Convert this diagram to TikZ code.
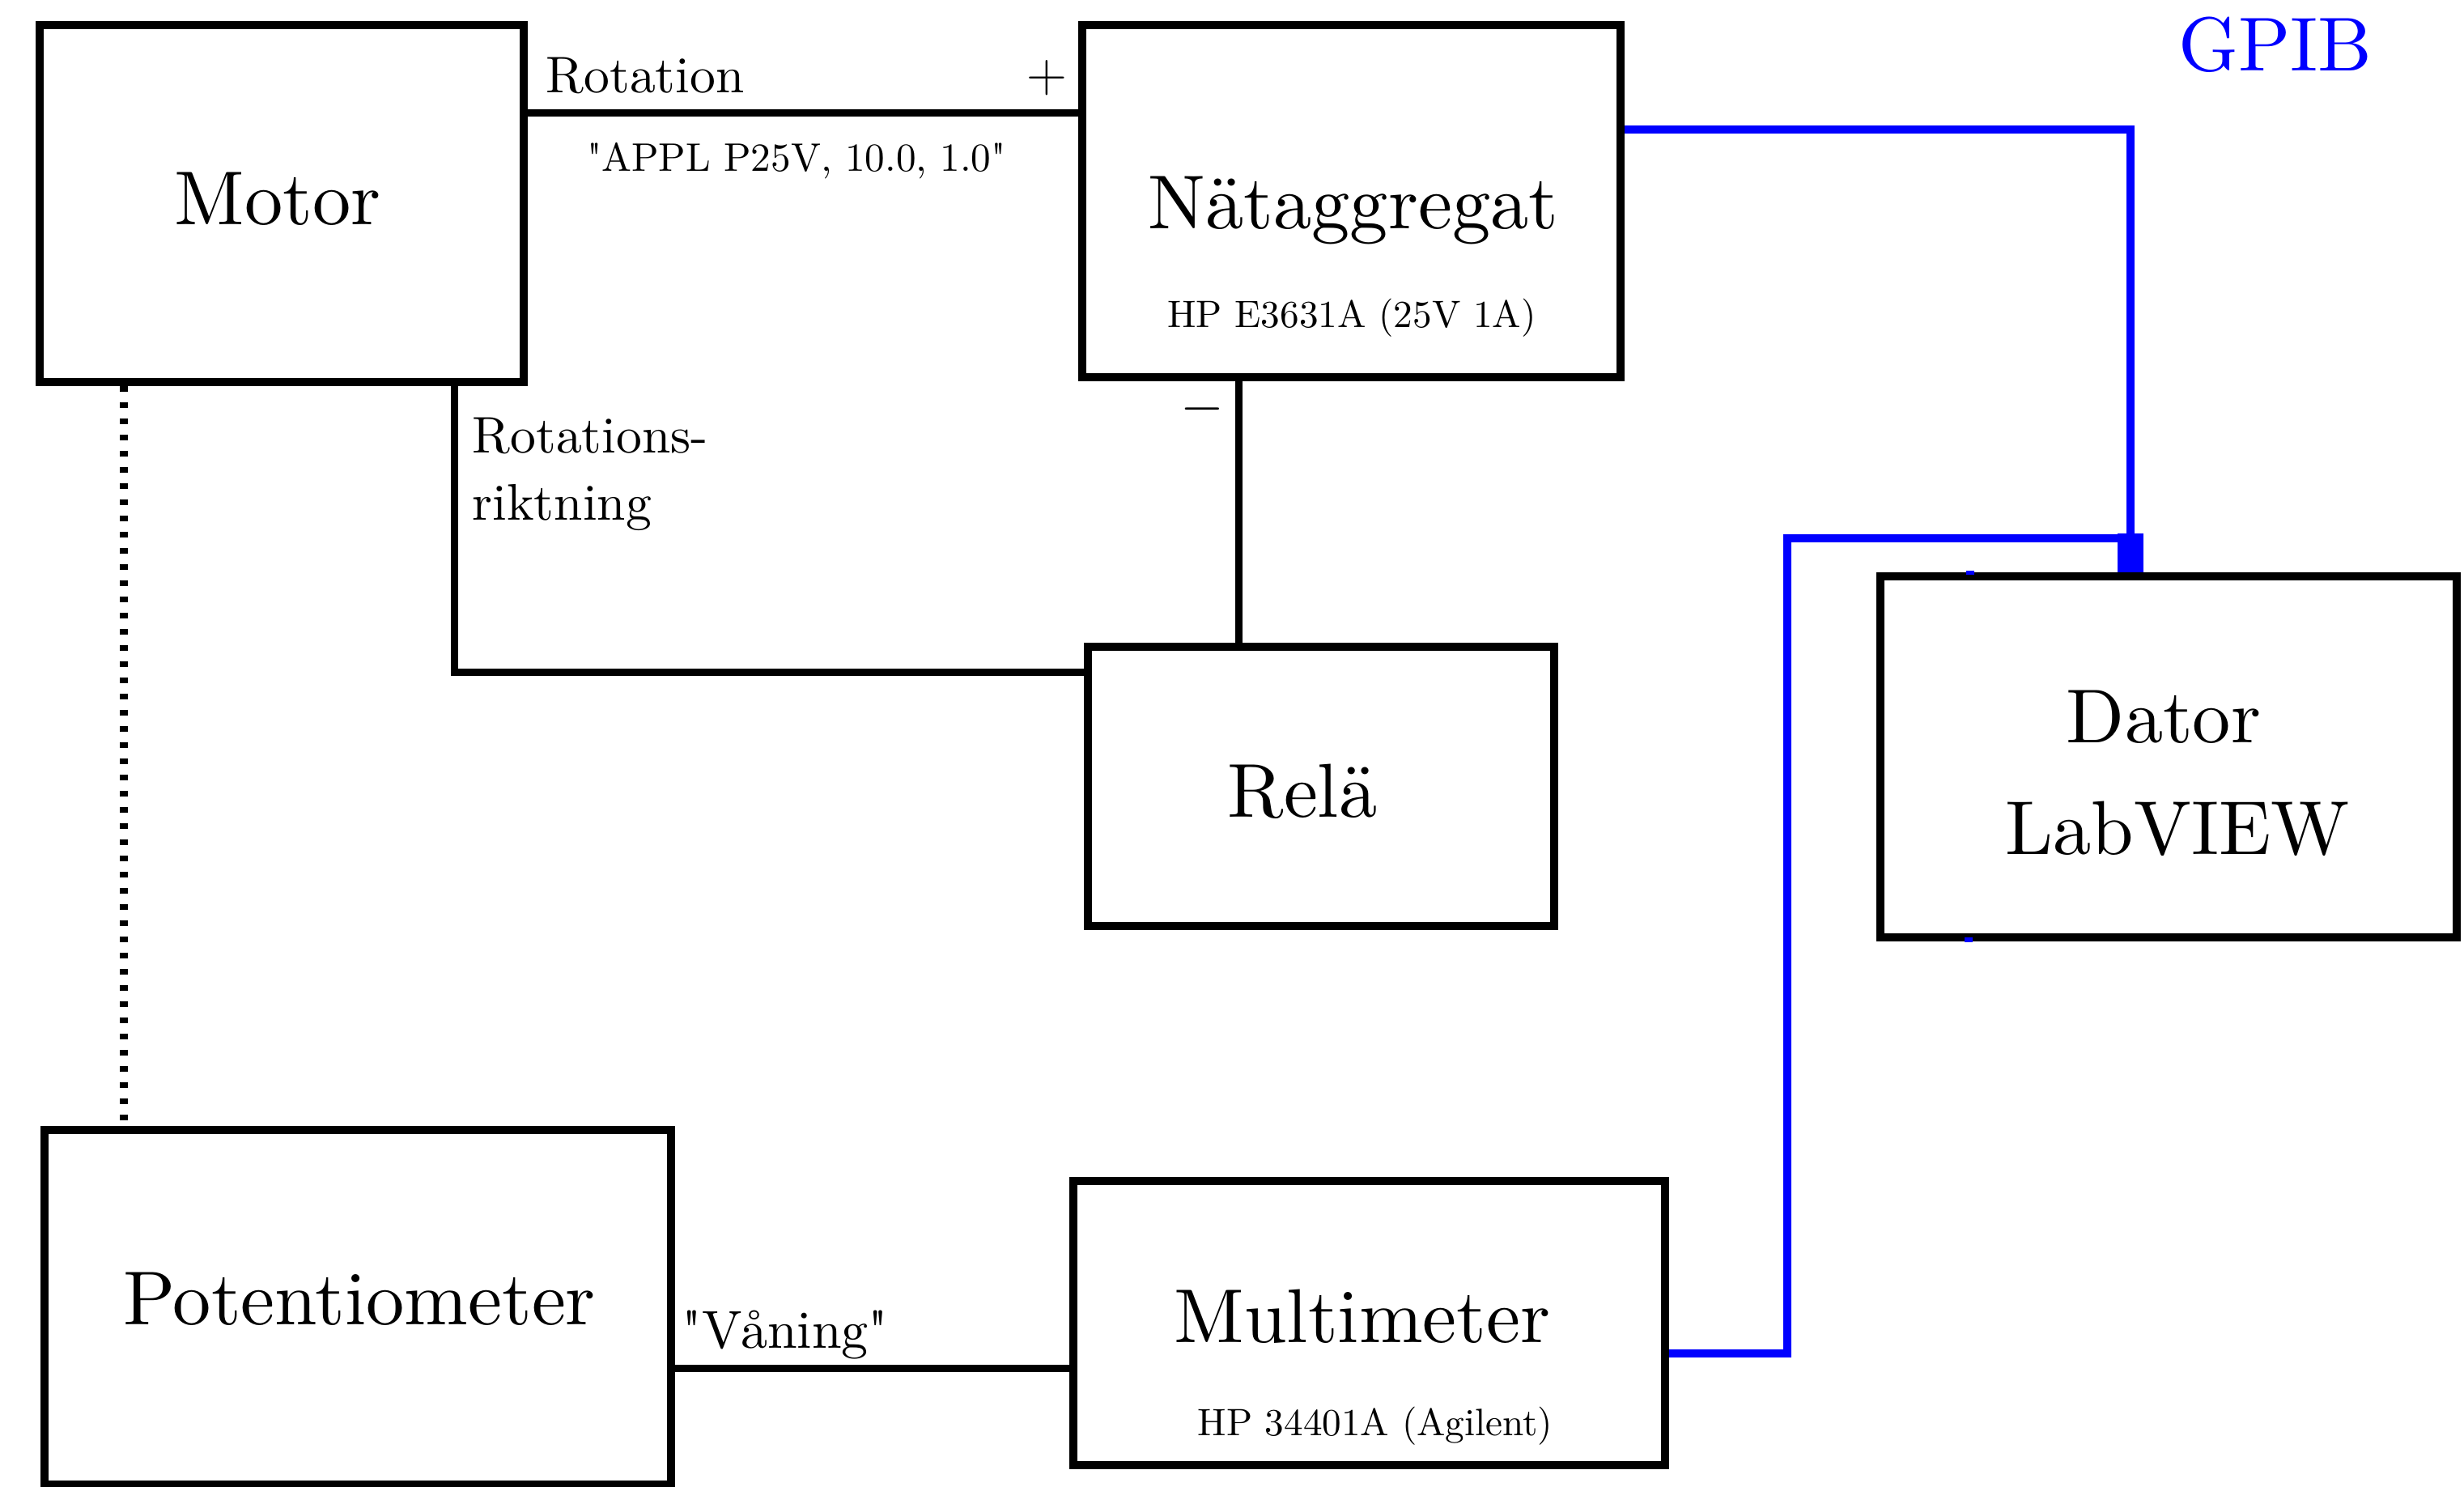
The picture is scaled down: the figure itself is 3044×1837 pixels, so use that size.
\documentclass[tikz,border=0pt]{standalone}
\usepackage{fontspec}
\setmainfont{lmroman10-regular.otf}
\usetikzlibrary{arrows.meta}
\definecolor{gpibblue}{RGB}{0,0,255}
\tikzset{
 box/.style={draw, line width=2.5pt, rectangle, inner sep=0pt},
 wire/.style={line width=2.25pt},
 gpib/.style={draw=gpibblue, line width=2.3pt},
 lbl/.style={inner sep=0pt, anchor=base},
 big/.style={font=\fontsize{23.6}{28}\selectfont},
 med/.style={font=\fontsize{15.9}{19}\selectfont},
 sml/.style={font=\fontsize{11.8}{14}\selectfont},
}
\begin{document}
\begin{tikzpicture}[x=0.25pt,y=-0.25pt]
\useasboundingbox (0,0) rectangle (3044,1837);
% boxes
\node[box, minimum width=149.5pt, minimum height=110.25pt] (motor) at (348,251.5) {};
\node[box, minimum width=166.25pt, minimum height=108.75pt] (nat) at (1669.5,248.5) {};
\node[box, minimum width=178pt, minimum height=111.5pt] (dator) at (2679,935) {};
\node[box, minimum width=144pt, minimum height=86.25pt] (rele) at (1632,971.5) {};
\node[box, minimum width=193.5pt, minimum height=109.5pt] (pot) at (442,1615) {};
\node[box, minimum width=182.75pt, minimum height=87.75pt] (multi) at (1691.5,1634.5) {};
% texts
\node[lbl, big] (tmotor) at (343,278) {Motor};
\node[lbl, big] (tnat) at (1672,283) {Nätaggregat};
\node[lbl, sml] (tnatsub) at (1670,405) {HP E3631A (25V 1A)};
\node[lbl, big] (tdator) at (2673,918) {Dator};
\node[lbl, big] (tlab) at (2690,1056) {LabVIEW};
\node[lbl, big] (trele) at (1609,1010) {Relä};
\node[lbl, big] (tpot) at (444,1637) {Potentiometer};
\node[lbl, big] (tmulti) at (1683,1659) {Multimeter};
\node[lbl, sml] (tmultisub) at (1699,1773) {HP 34401A (Agilent)};
\node[lbl, big, text=gpibblue] (tgpib) at (2811,88) {GPIB};
\node[lbl, med, anchor=base west] (trot) at (674,115) {Rotation};
\node[inner sep=0pt, med] (tplus) at (1293,96) {$+$};
\node[lbl, font=\fontsize{12.3}{14}\selectfont] (tappl) at (984,212) {\textquotedbl APPL P25V, 10.0, 1.0\textquotedbl};
\node[inner sep=0pt, med] (tminus) at (1485,505) {$-$};
\node[lbl, med, anchor=base west] (trot1) at (583,560) {Rotations-};
\node[lbl, med, anchor=base west] (trot2) at (583,643) {riktning};
\node[lbl, font=\fontsize{16.5}{19}\selectfont] (tvan) at (970,1666) {\textquotedbl Våning\textquotedbl};
% black connectors
\draw[wire] (motor.east |- 0,140) -- (nat.west |- 0,140);
\draw[wire] (motor.south -| 561,0) |- (rele.west |- 0,831);
\draw[wire] (nat.south -| 1530,0) -- (rele.north -| 1530,0);
\draw[line width=2.6pt, dash pattern=on 1.75pt off 3.25pt] (motor.south -| 153,0) -- (pot.north -| 153,0);
\draw[wire] (pot.east |- 0,1691) -- (multi.west |- 0,1691);
% GPIB connectors
\coordinate (gjoin) at (2632,665);
\draw[gpib, -{Rectangle[length=12pt,width=8pt]}] (nat.east |- 0,160) -| (dator.north -| 2632,0);
\draw[gpib] (multi.east |- 0,1672) -| (2208,665) -- (gjoin);
\fill[gpibblue] (2429,705) rectangle (2439,710);
\fill[gpibblue] (2427,1158) rectangle (2437,1164);
\end{tikzpicture}
\end{document}
